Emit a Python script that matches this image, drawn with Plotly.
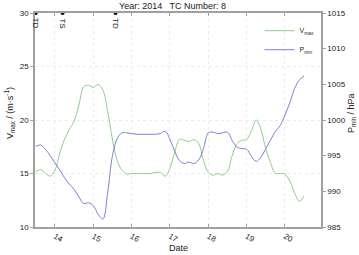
import plotly.graph_objects as go

# 3-hourly times (day of month)
days = [13.5 + 0.125 * k for k in range(57)]
vmax = [15.15, 15.38, 15.05, 14.75, 15.3, 16.9, 18.2, 19.1, 19.9, 21.4,
        23.1, 23.25, 23.05, 23.3, 22.8, 20.8, 18.2, 16.2, 15.3, 14.95,
        15.0, 15.0, 15.0, 15.0, 15.0, 15.1, 15.1, 14.75, 15.5, 17.0,
        18.2, 18.1, 18.0, 18.15, 17.8, 16.2, 15.1, 14.85, 15.0, 14.85,
        15.2, 16.7, 17.8, 18.1, 18.2, 19.0, 20.0, 19.1, 17.3, 16.0,
        15.0, 15.0, 14.95, 14.3, 13.2, 12.4, 12.9]
pmin = [996.3, 996.5, 995.9, 995.0, 994.0, 993.0, 991.9, 991.0, 990.3, 989.2,
        988.3, 988.4, 988.0, 986.8, 986.1, 989.8, 995.0, 997.4, 998.2, 998.2,
        998.1, 998.0, 998.0, 998.0, 998.0, 998.0, 998.1, 998.45, 997.3, 995.6,
        994.3, 993.9, 994.1, 993.9, 994.4, 996.0, 998.2, 998.3, 998.1, 998.2,
        998.3, 997.1, 996.2, 996.0, 995.9, 994.9, 994.2, 994.8, 996.0, 997.2,
        998.4, 999.2, 1000.7, 1002.4, 1004.4, 1005.6, 1006.2]
stage_days = [13.5, 14.2, 15.58]
stage_labels = ["TD", "TS", "TD"]
xticks = [14, 15, 16, 17, 18, 19, 20]
xticklabels = ["14", "15", "16", "17", "18", "19", "20"]
vticks = [10, 15, 20, 25, 30]
pticks = [985, 990, 995, 1000, 1005, 1010, 1015]

FONT = "Liberation Sans, Arial, sans-serif"
AX = "#a0a0a0"
GREEN = "#8ccf8c"
PURPLE = "#7f7fd2"
TXT = "#222"

fig = go.Figure()
fig.add_trace(go.Scatter(x=days, y=vmax, mode="lines", name="V<sub>max</sub>",
                         line=dict(color=GREEN, width=1, shape="spline", smoothing=1)))
fig.add_trace(go.Scatter(x=days, y=pmin, mode="lines", name="P<sub>min</sub>", yaxis="y2",
                         line=dict(color=PURPLE, width=1, shape="spline", smoothing=1)))
fig.add_trace(go.Scatter(x=stage_days, y=[30] * len(stage_days), mode="markers",
                         marker=dict(color="black", size=4), showlegend=False,
                         cliponaxis=False))
for d, lab in zip(stage_days, stage_labels):
    fig.add_annotation(x=d, y=30, text=lab, textangle=90, showarrow=False,
                       xanchor="center", yanchor="top", yshift=-3,
                       font=dict(family=FONT, size=8, color=TXT))

# title and axis titles
fig.add_annotation(x=0.48, y=1, xref="paper", yref="paper", yanchor="bottom", yshift=0,
                   text="Year: 2014   TC Number: 8", showarrow=False,
                   font=dict(family=FONT, size=9, color=TXT))
fig.add_annotation(x=0.5, y=0, xref="paper", yref="paper", yanchor="top", yshift=-14,
                   text="Date", showarrow=False, font=dict(family=FONT, size=9, color=TXT))
fig.add_annotation(x=0, y=0.53, xref="paper", yref="paper", xanchor="right", xshift=-17,
                   text="V<sub>max</sub> / (m·s<sup>-1</sup>)", textangle=-90, showarrow=False,
                   font=dict(family=FONT, size=9, color=TXT))
fig.add_annotation(x=1, y=0.53, xref="paper", yref="paper", xanchor="left", xshift=23,
                   text="P<sub>min</sub> / hPa", textangle=-90, showarrow=False,
                   font=dict(family=FONT, size=9, color=TXT))

fig.update_layout(
    width=359, height=255,
    margin=dict(l=35, r=38, t=13, b=28),
    paper_bgcolor="white", plot_bgcolor="white",
    font=dict(family=FONT, size=8, color=TXT),
    showlegend=True,
    legend=dict(x=0.995, y=0.985, xanchor="right", yanchor="top",
                bgcolor="rgba(0,0,0,0)", font=dict(size=7), itemwidth=30,
                tracegroupgap=0),
    xaxis=dict(range=[13.48, 20.94], tickvals=xticks, ticktext=xticklabels,
               tickangle=30, showgrid=True, gridcolor="#ececec", griddash="dot",
               showline=True, linecolor=AX, linewidth=1.5, mirror="ticks",
               ticks="inside", ticklen=3, tickcolor=AX, zeroline=False,
               automargin=False, tickfont=dict(size=8)),
    yaxis=dict(range=[10, 30], tickvals=vticks, showgrid=True, gridcolor="#ececec",
               griddash="dot", showline=True, linecolor=AX, linewidth=1.5,
               ticks="outside", ticklen=3, tickcolor=AX, zeroline=False,
               automargin=False, tickfont=dict(size=8)),
    yaxis2=dict(range=[985, 1015], tickvals=pticks, overlaying="y", side="right",
                showgrid=False, showline=True, linecolor=AX, linewidth=1.5,
                ticks="outside", ticklen=3, tickcolor=AX, zeroline=False,
                automargin=False, tickfont=dict(size=8)),
)

fig.write_html("out.html", config={"displayModeBar": False},
               post_script="document.body.style.margin='0';document.body.style.overflow='hidden';")
